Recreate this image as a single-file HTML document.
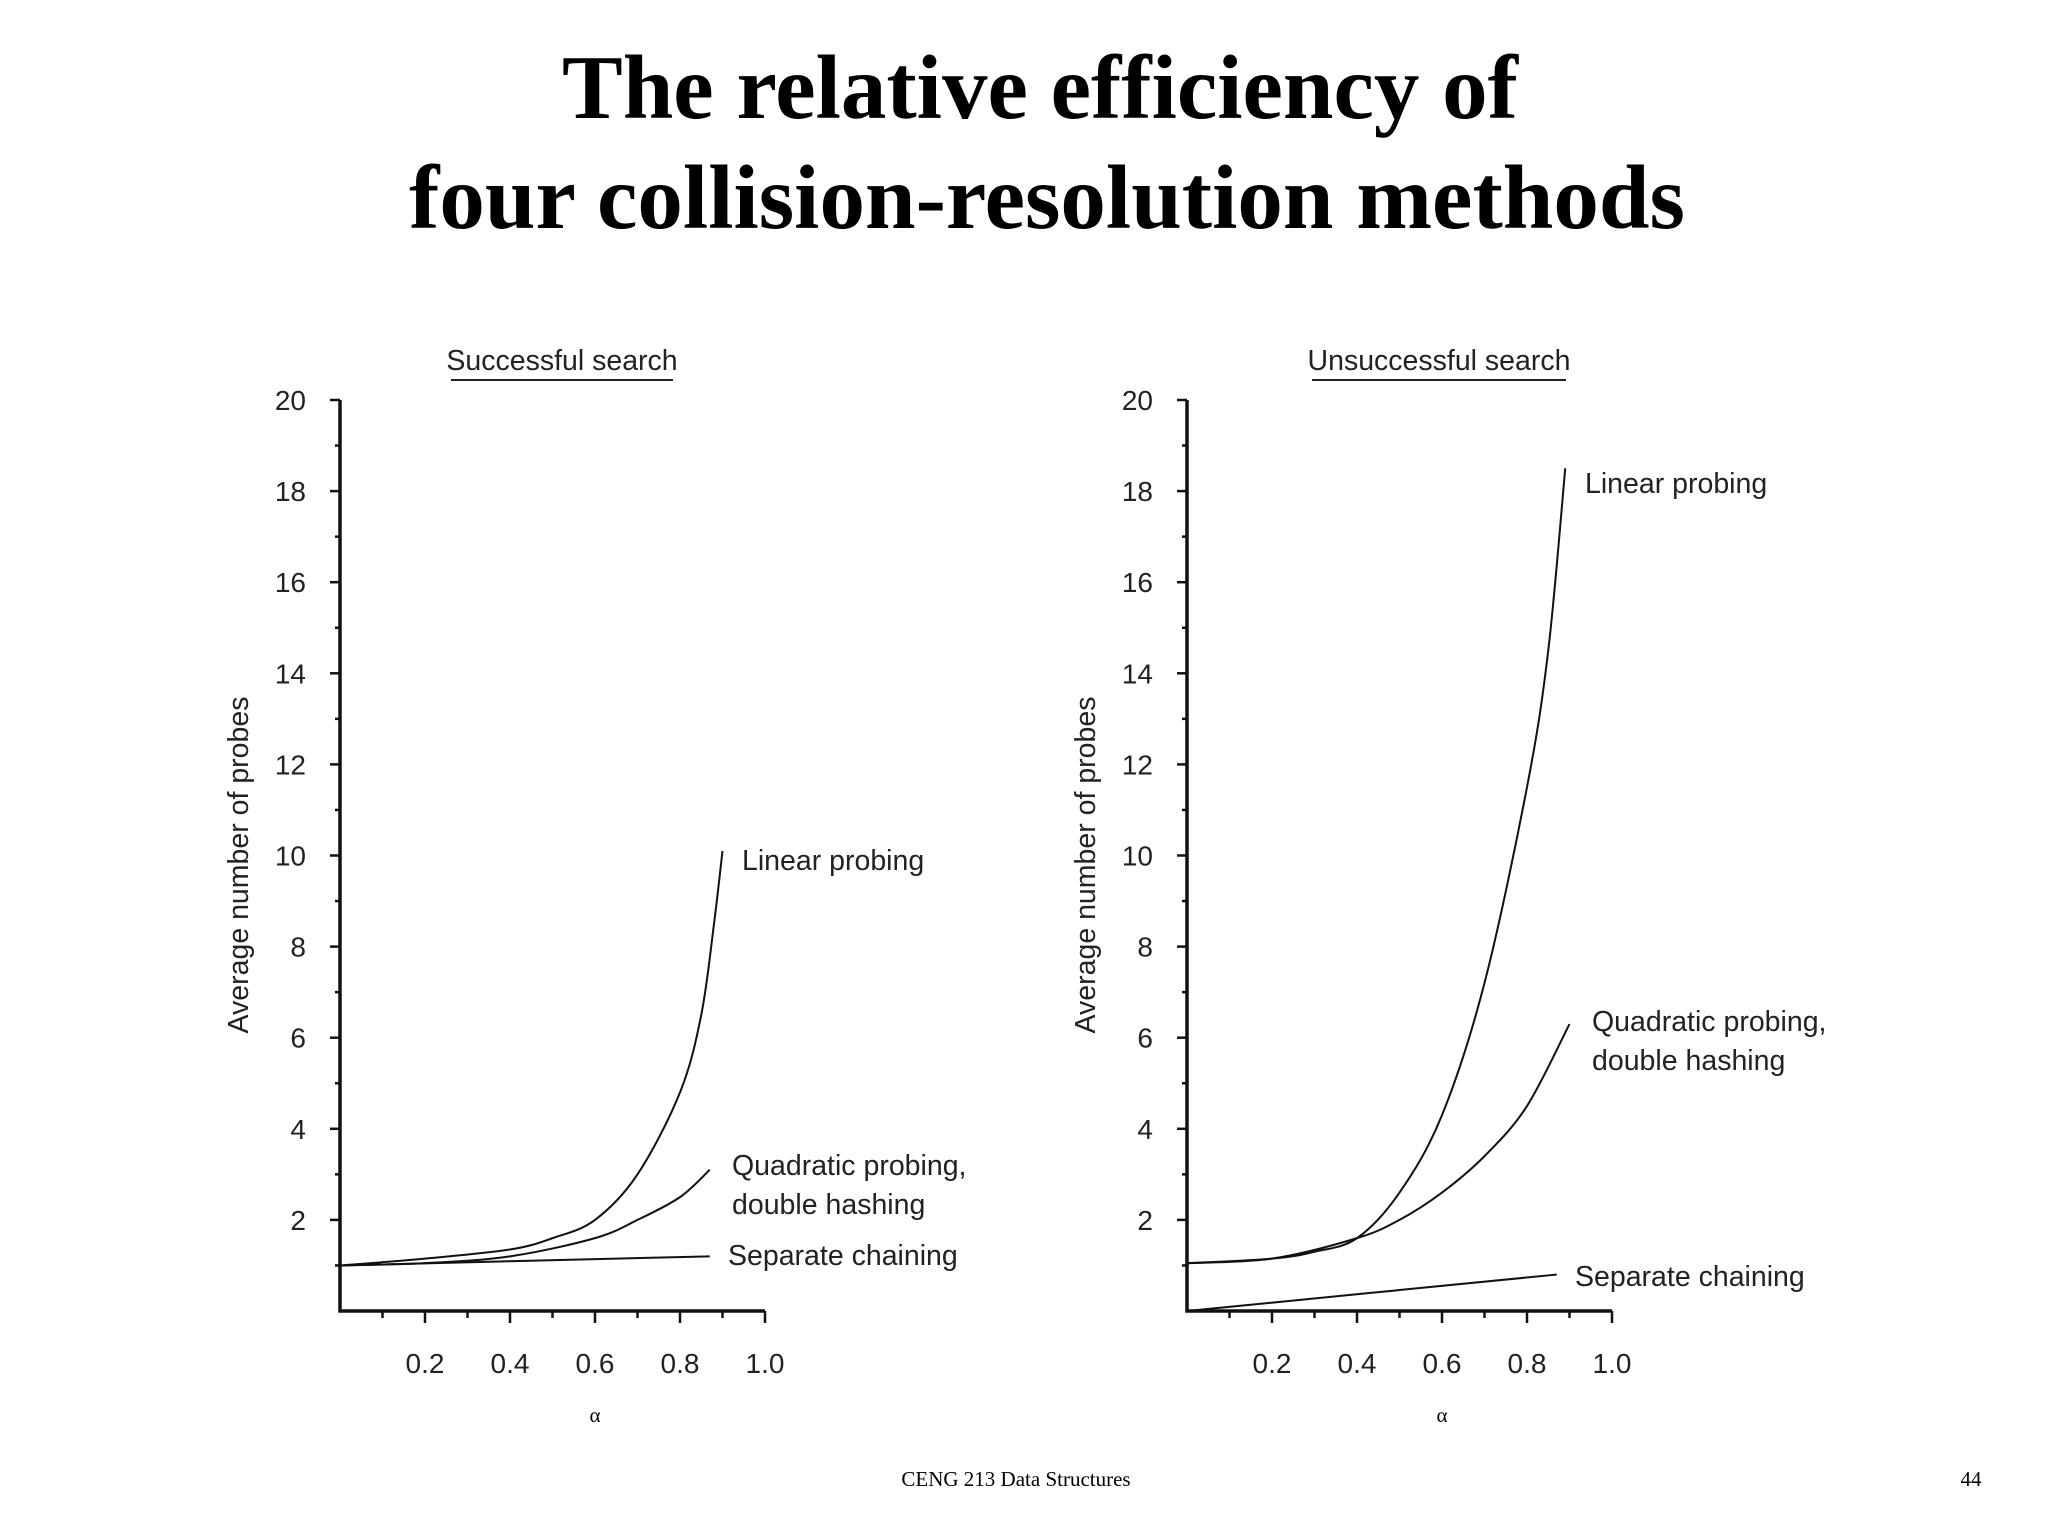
<!DOCTYPE html>
<html><head><meta charset="utf-8">
<style>
html,body{margin:0;padding:0;background:#fff;}
svg{display:block;}
.title{font-family:"Liberation Serif",serif;font-weight:bold;font-size:91px;fill:#000;}
.lbl{font-family:"Liberation Sans",sans-serif;font-size:28.5px;fill:#222;}
.tick{font-family:"Liberation Sans",sans-serif;font-size:28px;fill:#222;}
.foot{font-family:"Liberation Serif",serif;font-size:21px;fill:#000;}
</style></head>
<body>
<svg id="root" width="2048" height="1536" viewBox="0 0 2048 1536" xmlns="http://www.w3.org/2000/svg">
<text class="title" x="1040" y="118" text-anchor="middle">The relative efficiency of</text>
<text class="title" x="1047" y="228" text-anchor="middle">four collision-resolution methods</text>
<text class="foot" x="1016" y="1486" text-anchor="middle">CENG 213 Data Structures</text>
<text class="foot" x="1971" y="1486" text-anchor="middle">44</text>
<g id="charts"></g>
</svg>
<script>
// Successful search data
const sAlphaLinear = [0, 0.2, 0.4, 0.5, 0.6, 0.7, 0.8, 0.85, 0.88, 0.9];
const sLinear = [1, 1.15, 1.35, 1.6, 2.0, 3.0, 4.8, 6.5, 8.5, 10.1];
const sAlphaQuad = [0, 0.2, 0.4, 0.6, 0.7, 0.8, 0.87];
const sQuad = [1, 1.05, 1.2, 1.6, 2.0, 2.5, 3.1];
const sAlphaSep = [0, 0.87];
const sSep = [1, 1.2];
// Unsuccessful search data
const uAlphaLinear = [0, 0.2, 0.3, 0.4, 0.5, 0.6, 0.7, 0.8, 0.85, 0.89];
const uLinear = [1.05, 1.15, 1.3, 1.6, 2.6, 4.3, 7.2, 11.5, 14.5, 18.5];
const uAlphaQuad = [0, 0.2, 0.4, 0.5, 0.6, 0.7, 0.8, 0.9];
const uQuad = [1.05, 1.15, 1.6, 2.0, 2.6, 3.4, 4.5, 6.3];
const uAlphaSep = [0, 0.87];
const uSep = [0, 0.8];
// Tick labels
const xTickLabels = ["0.2", "0.4", "0.6", "0.8", "1.0"];
const xTickValues = [0.2, 0.4, 0.6, 0.8, 1.0];
const yTickValues = [2, 4, 6, 8, 10, 12, 14, 16, 18, 20];

const NS = "http://www.w3.org/2000/svg";
const root = document.getElementById('charts');
function mk(tag, attrs, parent, txt) {
  const e = document.createElementNS(NS, tag);
  for (const k in attrs) e.setAttribute(k, attrs[k]);
  if (txt !== undefined) e.textContent = txt;
  parent.appendChild(e);
  return e;
}
function smoothPath(pts) {
  let d = "M" + pts[0][0] + "," + pts[0][1];
  for (let i = 0; i < pts.length - 1; i++) {
    const p0 = pts[Math.max(0, i - 1)], p1 = pts[i], p2 = pts[i + 1], p3 = pts[Math.min(pts.length - 1, i + 2)];
    const c1x = p1[0] + (p2[0] - p0[0]) / 6, c1y = p1[1] + (p2[1] - p0[1]) / 6;
    const c2x = p2[0] - (p3[0] - p1[0]) / 6, c2y = p2[1] - (p3[1] - p1[1]) / 6;
    d += " C" + c1x + "," + c1y + " " + c2x + "," + c2y + " " + p2[0] + "," + p2[1];
  }
  return d;
}
function chart(cfg) {
  const g = mk('g', {}, root);
  
  
  const x0 = cfg.x0, x1 = cfg.x0 + 425, yB = 1311, yT = 400;
  const sx = a => x0 + a * (x1 - x0);
  const sy = v => yB - v / 20 * (yB - yT);
  const st = mk('text', {x: cfg.subX, y: 370, 'text-anchor': 'middle', class: 'lbl', 'font-size': '28'}, g, cfg.subtitle);
  
  
  const ul = mk('line', {x1: cfg.subX - cfg.subW / 2, x2: cfg.subX + cfg.subW / 2, y1: 380, y2: 380, stroke: '#222', 'stroke-width': 2}, g);
  
  
  const ax = mk('path', {d: `M${x0},${yT} V${yB} H${x1}`, fill: 'none', stroke: '#111', 'stroke-width': 3.5}, g);
  
  
  for (let v = 1; v <= 20; v++) {
    const major = v % 2 === 0;
    const t = mk('line', {x1: x0 - (major ? 10 : 5), x2: x0, y1: sy(v), y2: sy(v), stroke: '#111', 'stroke-width': 2.5}, g);
    
    
  }
  yTickValues.forEach(v => {
    const t = mk('text', {x: x0 - 34, y: sy(v) + 10, 'text-anchor': 'end', class: 'tick'}, g, String(v));
    
    
  });
  for (let i = 1; i <= 10; i++) {
    const a = i / 10;
    const t = mk('line', {x1: sx(a), x2: sx(a), y1: yB, y2: yB + (i % 2 === 0 ? 12 : 7), stroke: '#111', 'stroke-width': 2.5}, g);
    
    
  }
  xTickValues.forEach((a, i) => {
    const t = mk('text', {x: sx(a), y: 1373, 'text-anchor': 'middle', class: 'tick'}, g, xTickLabels[i]);
    
    
  });
  const xt = mk('text', {x: x0 + 255, y: 1422, 'text-anchor': 'middle', class: 'foot', 'font-size': '34'}, g, 'α');
  
  
  const yt = mk('text', {x: 0, y: 0, 'text-anchor': 'middle', class: 'lbl', transform: `translate(${x0 - 92},865) rotate(-90)`}, g, 'Average number of probes');
  
  
  cfg.series.forEach(s => {
    const pts = s.a.map((a, i) => [sx(a), sy(s.v[i])]);
    const p = mk('path', {d: smoothPath(pts), fill: 'none', stroke: '#111', 'stroke-width': 2}, g);
    
    
  });
  cfg.labels.forEach(l => {
    const t = mk('text', {x: l.x, y: l.y, class: 'lbl'}, g, l.t);
    
    
  });
}
chart({name: 'successful-search-chart', x0: 340, subtitle: 'Successful search', subX: 562, subW: 222,
  series: [
    {name: 'linear-probing-line', a: sAlphaLinear, v: sLinear},
    {name: 'quadratic-probing-line', a: sAlphaQuad, v: sQuad},
    {name: 'separate-chaining-line', a: sAlphaSep, v: sSep}],
  labels: [
    {x: 742, y: 870, t: 'Linear probing', n: 'linear-probing-label'},
    {x: 732, y: 1175, t: 'Quadratic probing,', n: 'quadratic-probing-label'},
    {x: 732, y: 1214, t: 'double hashing', n: 'double-hashing-label'},
    {x: 728, y: 1265, t: 'Separate chaining', n: 'separate-chaining-label'}]});
chart({name: 'unsuccessful-search-chart', x0: 1187, subtitle: 'Unsuccessful search', subX: 1439, subW: 254,
  series: [
    {name: 'linear-probing-line', a: uAlphaLinear, v: uLinear},
    {name: 'quadratic-probing-line', a: uAlphaQuad, v: uQuad},
    {name: 'separate-chaining-line', a: uAlphaSep, v: uSep}],
  labels: [
    {x: 1585, y: 493, t: 'Linear probing', n: 'linear-probing-label'},
    {x: 1592, y: 1031, t: 'Quadratic probing,', n: 'quadratic-probing-label'},
    {x: 1592, y: 1070, t: 'double hashing', n: 'double-hashing-label'},
    {x: 1575, y: 1286, t: 'Separate chaining', n: 'separate-chaining-label'}]});
</script>
</body></html>
